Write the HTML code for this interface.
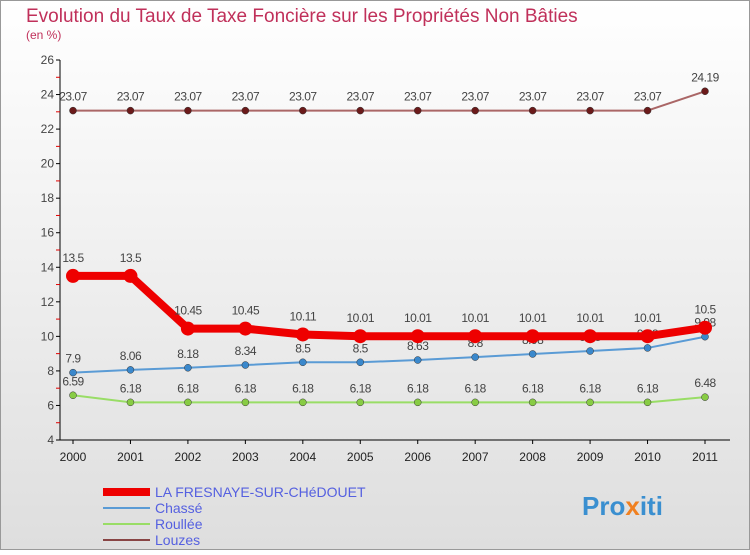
<!DOCTYPE html>
<html><head><meta charset="utf-8"><style>
body{margin:0;width:750px;height:550px;overflow:hidden;font-family:"Liberation Sans",sans-serif}
</style></head><body>
<svg width="750" height="550" xmlns="http://www.w3.org/2000/svg">
<defs><linearGradient id="bg" x1="0" y1="0" x2="0" y2="1"><stop offset="0" stop-color="#ffffff"/><stop offset="1" stop-color="#dedede"/></linearGradient></defs>
<rect x="0.5" y="0.5" width="749" height="549" fill="url(#bg)" stroke="#999"/>
<text x="26" y="22" font-size="19" fill="#c0305a">Evolution du Taux de Taxe Foncière sur les Propriétés Non Bâties</text>
<text x="26" y="39" font-size="12" fill="#c0305a">(en %)</text>
<g id="axes"></g><g id="series"></g>
<g>
<line x1="103" y1="492" x2="150" y2="492" stroke="#ee0000" stroke-width="8"/>
<text x="155" y="497" font-size="14" fill="#5560e0">LA FRESNAYE-SUR-CHéDOUET</text>
<line x1="103" y1="508" x2="150" y2="508" stroke="#5a9bd5" stroke-width="2"/>
<text x="155" y="513" font-size="14" fill="#5560e0">Chassé</text>
<line x1="103" y1="524" x2="150" y2="524" stroke="#99dd66" stroke-width="2"/>
<text x="155" y="529" font-size="14" fill="#5560e0">Roullée</text>
<line x1="103" y1="540" x2="150" y2="540" stroke="#884444" stroke-width="2"/>
<text x="155" y="545" font-size="14" fill="#5560e0">Louzes</text>
</g>
<text x="582" y="515" font-size="26" font-weight="bold" fill="#3a8fd0">Pro<tspan fill="#f08020">x</tspan>iti</text>
</svg>
<script>
const years=["2000","2001","2002","2003","2004","2005","2006","2007","2008","2009","2010","2011"];
const yTicks=[4,6,8,10,12,14,16,18,20,22,24,26];
const mainVals=[13.5,13.5,10.45,10.45,10.11,10.01,10.01,10.01,10.01,10.01,10.01,10.5];
const chasseVals=[7.9,8.06,8.18,8.34,8.5,8.5,8.63,8.8,8.98,9.15,9.33,9.98];
const roulleeVals=[6.59,6.18,6.18,6.18,6.18,6.18,6.18,6.18,6.18,6.18,6.18,6.48];
const louzesVals=[23.07,23.07,23.07,23.07,23.07,23.07,23.07,23.07,23.07,23.07,23.07,24.19];
const NS="http://www.w3.org/2000/svg";
const xs=i=>73+i*(705-73)/11;
const ys=v=>60+(26-v)*(380/22);
function mk(tag,attrs,parent){const e=document.createElementNS(NS,tag);for(const k in attrs)e.setAttribute(k,attrs[k]);parent.appendChild(e);return e;}
const ax=document.getElementById('axes');
let a=mk('line',{x1:60,y1:ys(26),x2:60,y2:ys(4),stroke:'#000'},ax);


a=mk('line',{x1:60,y1:ys(4),x2:730,y2:ys(4),stroke:'#000'},ax);


yTicks.forEach(v=>{
 mk('line',{x1:56,y1:ys(v),x2:60,y2:ys(v),stroke:'#000'},ax);
 if(v<26)mk('line',{x1:56,y1:ys(v+1),x2:60,y2:ys(v+1),stroke:'#e00000'},ax);
 const t=mk('text',{x:54,y:ys(v)+4,'font-size':12,'text-anchor':'end',fill:'#444'},ax);
 t.textContent=v;
 
 
});
years.forEach((y,i)=>{
 mk('line',{x1:xs(i),y1:ys(4),x2:xs(i),y2:ys(4)+4,stroke:'#000'},ax);
 const t=mk('text',{x:xs(i),y:ys(4)+21,'font-size':12,'text-anchor':'middle',fill:'#222'},ax);
 t.textContent=y;
 
 
});
const sg=document.getElementById('series');
function series(vals,color,w,r,name,fill){
 const p=mk('polyline',{points:vals.map((v,i)=>xs(i)+','+ys(v)).join(' '),fill:'none',stroke:color,'stroke-width':w,'stroke-linejoin':'round'},sg);
 
 
 vals.forEach((v,i)=>{
  const c=mk('circle',{cx:xs(i),cy:ys(v),r:r,fill:fill,stroke:r>5?'none':'#333','stroke-width':0.5},sg);
  
  
  const t=mk('text',{x:xs(i),y:ys(v)-10-(r>5?4:0),'font-size':12,'text-anchor':'middle',fill:'#444','letter-spacing':'-0.5'},sg);
  t.textContent=v;
  
  
 });
}
series(louzesVals,'#aa6666',2,3.5,'louzes','#6b1a1a');
series(roulleeVals,'#99dd66',2,3.5,'roullee','#88cc44');
series(chasseVals,'#5a9bd5',2,3.5,'chasse','#3a88cc');
series(mainVals,'#ee0000',8,7,'la-fresnaye','#ee0000');
</script>
</body></html>
